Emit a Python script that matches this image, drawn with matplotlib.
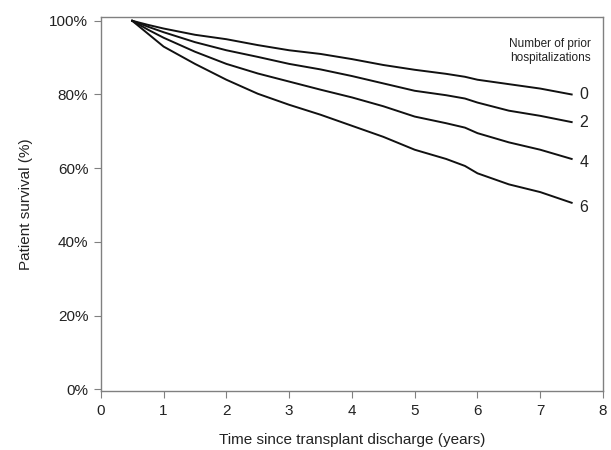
import matplotlib.pyplot as plt

plt.rcParams['font.family'] = ['Liberation Sans', 'DejaVu Sans']

# time since discharge (years) and survival (%) by number of prior hospitalizations
tempos = [0.5, 0.75, 1, 1.5, 2, 2.5, 3, 3.5, 4, 4.5, 5, 5.5, 5.8, 6, 6.5, 7, 7.5]
surv_0 = [100, 98.9, 97.9, 96.2, 95.0, 93.4, 92.0, 91.0, 89.6, 88.0, 86.7, 85.6, 84.8, 84.0, 82.8, 81.6, 80.0]
surv_2 = [100, 98.4, 96.9, 94.2, 92.0, 90.2, 88.3, 86.8, 85.0, 83.0, 81.0, 79.8, 78.9, 77.8, 75.6, 74.2, 72.5]
surv_4 = [100, 97.6, 95.4, 91.6, 88.3, 85.7, 83.5, 81.3, 79.2, 76.8, 74.0, 72.2, 71.0, 69.5, 67.0, 65.0, 62.5]
surv_6 = [100, 96.5, 93.0, 88.3, 84.0, 80.2, 77.2, 74.5, 71.5, 68.5, 65.0, 62.5, 60.6, 58.6, 55.6, 53.5, 50.6]
rotulos = ["0", "2", "4", "6"]
desvio_rotulo = [0, 0, -1.0, -1.3]  # label offset below line end (%)

x_ticks = list(range(0, 9))
y_ticks = [0, 20, 40, 60, 80, 100]

fig = plt.figure(figsize=(6.11, 4.5), dpi=100)
ax = fig.add_axes([0.165, 0.131, 0.822, 0.831])

for serie, rot, dy in zip([surv_0, surv_2, surv_4, surv_6], rotulos, desvio_rotulo):
    ax.plot(tempos, serie, color='#111111', lw=1.4)
    ax.text(tempos[-1] + 0.12, serie[-1] + dy, rot, fontsize=11.5, color='#222222',
            ha='left', va='center')

ax.text(0.895, 0.945, "Number of prior\nhospitalizations", transform=ax.transAxes,
        ha='center', va='top', fontsize=8.5, color='#222222', linespacing=1.3)

ax.set_xlim(0, 8)
ax.set_ylim(-0.5, 101)
ax.set_xticks(x_ticks)
ax.set_yticks(y_ticks)
ax.set_yticklabels([f"{v}%" for v in y_ticks])
ax.tick_params(direction='out', length=5, color='#808080', labelsize=11,
               labelcolor='#222222', pad=4)

for s in ax.spines.values():
    s.set_color('#808080')
    s.set_linewidth(1.0)

ax.set_xlabel("Time since transplant discharge (years)", fontsize=11, color='#222222', labelpad=11)
ax.set_ylabel("Patient survival (%)", fontsize=11, color='#222222', labelpad=12)

fig.savefig("out.png", dpi=100)
